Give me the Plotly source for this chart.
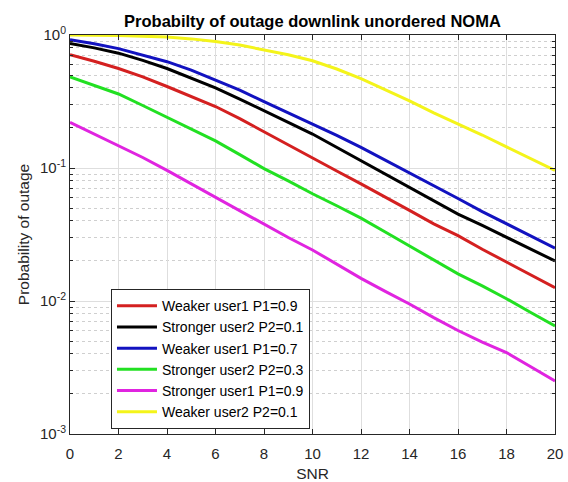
import plotly.graph_objects as go

snr = list(range(0, 21))

weak_u1_p09 = [0.71, 0.635, 0.56, 0.485, 0.41, 0.345, 0.29, 0.235, 0.187, 0.15, 0.118,
               0.095, 0.076, 0.06, 0.048, 0.038, 0.031, 0.0245, 0.0196, 0.0158, 0.0126]
strong_u2_p01 = [0.865, 0.80, 0.73, 0.645, 0.56, 0.475, 0.40, 0.33, 0.268, 0.22, 0.18,
                 0.143, 0.114, 0.091, 0.072, 0.057, 0.045, 0.037, 0.030, 0.0245, 0.020]
weak_u1_p07 = [0.92, 0.86, 0.79, 0.71, 0.63, 0.545, 0.46, 0.385, 0.315, 0.26, 0.215,
               0.176, 0.143, 0.115, 0.092, 0.074, 0.059, 0.047, 0.038, 0.031, 0.025]
strong_u2_p03 = [0.485, 0.42, 0.36, 0.295, 0.24, 0.197, 0.16, 0.126, 0.099, 0.08, 0.064,
                 0.052, 0.042, 0.033, 0.026, 0.0205, 0.016, 0.013, 0.0104, 0.0082, 0.0065]
strong_u1_p09 = [0.22, 0.18, 0.148, 0.12, 0.096, 0.076, 0.06, 0.048, 0.038, 0.030, 0.0242,
                 0.0188, 0.0148, 0.0118, 0.0095, 0.0075, 0.006, 0.0049, 0.0041, 0.0032, 0.0025]
weak_u2_p01 = [0.999, 0.997, 0.99, 0.98, 0.965, 0.935, 0.895, 0.84, 0.77, 0.71, 0.64,
               0.555, 0.47, 0.39, 0.32, 0.26, 0.216, 0.177, 0.144, 0.118, 0.096]

series = [
    ("Weaker user1 P1=0.9", weak_u1_p09, "#d42020"),
    ("Stronger user2 P2=0.1", strong_u2_p01, "#000000"),
    ("Weaker user1 P1=0.7", weak_u1_p07, "#1212c0"),
    ("Stronger user2 P2=0.3", strong_u2_p03, "#22e022"),
    ("Stronger user1 P1=0.9", strong_u1_p09, "#e024e0"),
    ("Weaker user2 P2=0.1", weak_u2_p01, "#f4f41a"),
]

x_ticks = list(range(0, 21, 2))
y_ticks = [1e-3, 1e-2, 1e-1, 1]
y_ticktext = ["10<sup>-3</sup>", "10<sup>-2</sup>", "10<sup>-1</sup>", "10<sup>0</sup>"]
y_minor = [k * 10.0 ** e for e in (-3, -2, -1) for k in range(2, 10)]

FONT = "Liberation Sans, Arial, sans-serif"
AX = "#262626"

fig = go.Figure()
for name, vals, col in series:
    fig.add_trace(go.Scatter(x=snr, y=vals, mode="lines", name=name,
                             line=dict(color=col, width=3)))

fig.update_layout(
    width=568, height=482,
    margin=dict(l=70, r=13, t=35, b=48),
    paper_bgcolor="white", plot_bgcolor="white",
    font=dict(family=FONT, size=15, color=AX),
    title=dict(text="<b>Probabilty of outage downlink unordered NOMA</b>",
               x=0.5, xref="paper", xanchor="center", y=0.956, yanchor="middle",
               font=dict(family=FONT, size=16.5, color="#000000")),
    legend=dict(x=0.0845, y=0.363, xanchor="left", yanchor="top",
                bgcolor="white", bordercolor=AX, borderwidth=1,
                font=dict(family=FONT, size=14, color="#000000"),
                tracegroupgap=0, itemwidth=40),
    showlegend=True,
)

fig.update_xaxes(
    range=[0, 20], tickvals=x_ticks, ticks="inside", ticklen=5, tickcolor=AX,
    showline=True, linecolor=AX, linewidth=1, mirror="allticks",
    showgrid=True, gridcolor="#dedede", gridwidth=1, zeroline=False,
    ticklabelstandoff=6, automargin=False,
    title=dict(text="SNR", standoff=10, font=dict(family=FONT, size=15.5, color=AX)),
    tickfont=dict(family=FONT, size=15, color=AX),
)
fig.update_yaxes(
    type="log", range=[-3, 0], tickvals=y_ticks, ticktext=y_ticktext,
    ticks="inside", ticklen=5, tickcolor=AX,
    showline=True, linecolor=AX, linewidth=1, mirror="allticks",
    showgrid=True, gridcolor="#dedede", gridwidth=1, zeroline=False,
    automargin=False,
    minor=dict(tickvals=y_minor, ticks="inside", ticklen=3, tickcolor=AX,
               showgrid=True, gridcolor="#cfcfcf", griddash="dot", gridwidth=1),
    title=dict(text="Probability of outage", standoff=6,
               font=dict(family=FONT, size=15.5, color=AX)),
    tickfont=dict(family=FONT, size=15, color=AX),
)

fig.write_html("out.html")
